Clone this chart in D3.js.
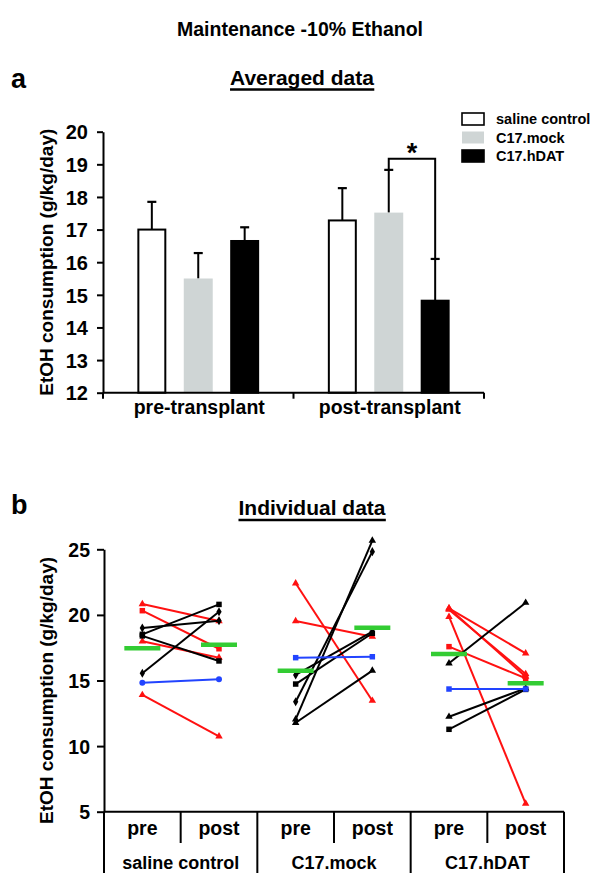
<!DOCTYPE html>
<html><head><meta charset="utf-8">
<script src="https://cdn.jsdelivr.net/npm/d3@7"></script>
<style>
body{margin:0;background:#fff}
svg{display:block}
text{font-family:"Liberation Sans",Arial,Helvetica,sans-serif;font-weight:bold;fill:#000}
</style>
</head><body>
<svg id="chart" width="600" height="890"></svg>
<script>
// ---------- Panel a data ----------
const groupsA = ["pre-transplant", "post-transplant"];
const seriesA = ["saline control", "C17.mock", "C17.hDAT"];
const meanPre = [17.0, 15.5, 16.65];
const meanPost = [17.28, 17.52, 14.82];
const semPre = [0.85, 0.78, 0.42];
const semPost = [0.99, 1.31, 1.28];
const ticksA = [12, 13, 14, 15, 16, 17, 18, 19, 20];
const sigLevel = 19.17;

// ---------- Panel b data ----------
const groupsB = ["saline control", "C17.mock", "C17.hDAT"];
const phasesB = ["pre", "post"];
const ticksB = [5, 10, 15, 20, 25];
// cohort code: R = red, K = black, B = blue
const salineCohort = ["R", "R", "R", "R", "K", "K", "K", "K", "B"];
const salinePre  = [20.83, 20.32, 17.99, 13.9, 19.0, 18.52, 18.4, 15.55, 14.83];
const salinePost = [19.53, 17.42, 16.74, 10.75, 19.55, 20.8, 16.49, 20.24, 15.09];
const salineMark = ["tri", "sq", "tri", "tri", "dia", "sq", "sq", "dia", "circ"];
const mockCohort = ["R", "R", "K", "K", "K", "K", "K", "B"];
const mockPre  = [22.41, 19.53, 15.42, 14.73, 13.38, 12.04, 11.78, 16.74];
const mockPost = [13.46, 18.34, 18.72, 18.6, 24.82, 25.66, 15.75, 16.81];
const mockMark = ["tri", "tri", "dia", "sq", "dia", "tri", "tri", "sq"];
const hdatCohort = ["R", "R", "R", "R", "R", "K", "K", "K", "B"];
const hdatPre  = [20.5, 20.5, 20.4, 19.86, 17.58, 16.31, 12.24, 11.28, 14.35];
const hdatPost = [17.07, 15.29, 15.5, 5.62, 15.17, 20.93, 14.4, 14.32, 14.35];
const hdatMark = ["tri", "tri", "tri", "tri", "sq", "tri", "tri", "sq", "sq"];
const groupMeanPre = [17.45, 15.75, 17.02];
const groupMeanPost = [17.73, 19.02, 14.79];

// ---------- styles ----------
const barFill = ["#ffffff", "#cfd5d5", "#000000"];
const barStroke = ["#000000", "none", "#000000"];
const cohortColor = {R: "#ff1111", K: "#000000", B: "#2244ff"};
const meanColor = "#33cc33";

const svg = d3.select("#chart");

// Title
svg.append("text").attr("x", 300).attr("y", 36).attr("text-anchor", "middle")
  .style("font-size", "19.5px").text("Maintenance -10% Ethanol");

// ================= Panel a =================
svg.append("text").attr("x", 11).attr("y", 88).style("font-size", "27px").text("a");
const tA = svg.append("text").attr("x", 302).attr("y", 85).attr("text-anchor", "middle")
  .style("font-size", "21px").text("Averaged data");
const bbA = tA.node().getBBox();
svg.append("line").attr("x1", bbA.x).attr("x2", bbA.x + bbA.width).attr("y1", 89.5).attr("y2", 89.5)
  .attr("stroke", "#000").attr("stroke-width", 2.5);

const yA = d3.scaleLinear().domain([12, 20]).range([392.7, 131.7]);
const x0 = d3.scaleBand().domain(groupsA).range([103, 484]);
const x1 = d3.scaleBand().domain(seriesA).range([0, x0.bandwidth()]).paddingInner(0.376).paddingOuter(0.74);

const axA = svg.append("g").attr("transform", "translate(103,0)")
  .call(d3.axisLeft(yA).tickValues(ticksA).tickSize(6).tickPadding(9).tickSizeOuter(0));
axA.select(".domain").attr("stroke-width", 2);
axA.selectAll(".tick line").attr("stroke-width", 2);
axA.selectAll(".tick text").style("font-size", "20px").style("font-family", '"Liberation Sans",Arial,sans-serif').style("font-weight", "bold").attr("dy", "0.36em");

// y label a
svg.append("text").attr("transform", `translate(53,${(131.7 + 392.7) / 2}) rotate(-90)`)
  .attr("text-anchor", "middle").style("font-size", "19px").text("EtOH consumption (g/kg/day)");

// bars
const barData = [];
groupsA.forEach((g, gi) => seriesA.forEach((s, si) => {
  const m = gi === 0 ? meanPre[si] : meanPost[si];
  const e = gi === 0 ? semPre[si] : semPost[si];
  barData.push({g, s, si, m, e});
}));
const gBars = svg.append("g");
// error bars (behind)
barData.forEach(d => {
  const cx = x0(d.g) + x1(d.s) + x1.bandwidth() / 2;
  gBars.append("line").attr("x1", cx).attr("x2", cx).attr("y1", yA(d.m)).attr("y2", yA(d.m + d.e))
    .attr("stroke", "#000").attr("stroke-width", 2);
  gBars.append("line").attr("x1", cx - 4.5).attr("x2", cx + 4.5).attr("y1", yA(d.m + d.e)).attr("y2", yA(d.m + d.e))
    .attr("stroke", "#000").attr("stroke-width", 2.2);
});
gBars.selectAll("rect").data(barData).join("rect")
  .attr("x", d => x0(d.g) + x1(d.s) + (barStroke[d.si] === "none" ? 0 : 1))
  .attr("width", d => x1.bandwidth() - (barStroke[d.si] === "none" ? 0 : 2))
  .attr("y", d => yA(d.m))
  .attr("height", d => yA(12) - yA(d.m))
  .attr("fill", d => barFill[d.si])
  .attr("stroke", d => barStroke[d.si])
  .attr("stroke-width", 2);

// x axis a
const xaxA = svg.append("g");
xaxA.append("line").attr("x1", 103).attr("x2", 484).attr("y1", yA(12)).attr("y2", yA(12)).attr("stroke", "#000").attr("stroke-width", 2);
const edgesA = [x0(groupsA[0]), x0(groupsA[1]), x0(groupsA[1]) + x0.bandwidth()];
edgesA.forEach(xe => xaxA.append("line").attr("x1", xe).attr("x2", xe).attr("y1", yA(12)).attr("y2", yA(12) + 6).attr("stroke", "#000").attr("stroke-width", 2));
groupsA.forEach(g => svg.append("text").attr("x", x0(g) + x0.bandwidth() / 2 + 1).attr("y", 414)
  .attr("text-anchor", "middle").style("font-size", "19.5px").text(g));

// significance bracket
const xm = x0(groupsA[1]) + x1(seriesA[1]) + x1.bandwidth() / 2;
const xh = x0(groupsA[1]) + x1(seriesA[2]) + x1.bandwidth() / 2;
svg.append("path")
  .attr("d", `M${xm},${yA(meanPost[1] + semPost[1])}V${yA(sigLevel)}H${xh}V${yA(meanPost[2] + semPost[2])}`)
  .attr("fill", "none").attr("stroke", "#000").attr("stroke-width", 2);
svg.append("text").attr("x", (xm + xh) / 2).attr("y", 162).attr("text-anchor", "middle")
  .style("font-size", "27px").text("*");

// legend
const legY = [119, 137.5, 156];
seriesA.forEach((s, i) => {
  svg.append("rect").attr("x", 462).attr("y", legY[i] - 6).attr("width", 22).attr("height", 12)
    .attr("fill", barFill[i]).attr("stroke", barStroke[i]).attr("stroke-width", 1.6);
  svg.append("text").attr("x", 496).attr("y", legY[i] + 5).style("font-size", "14.5px").text(s);
});

// ================= Panel b =================
svg.append("text").attr("x", 11).attr("y", 514).style("font-size", "27px").text("b");
const tB = svg.append("text").attr("x", 312).attr("y", 515).attr("text-anchor", "middle")
  .style("font-size", "21px").text("Individual data");
const bbB = tB.node().getBBox();
svg.append("line").attr("x1", bbB.x).attr("x2", bbB.x + bbB.width).attr("y1", 520).attr("y2", 520)
  .attr("stroke", "#000").attr("stroke-width", 2.5);

const yB = d3.scaleLinear().domain([5, 25]).range([811.7, 549.3]);
const keysB = [];
groupsB.forEach(g => phasesB.forEach(p => keysB.push(g + "|" + p)));
const xB = d3.scaleBand().domain(keysB).range([104, 564]);
const cx = k => xB(k) + xB.bandwidth() / 2;

const axB = svg.append("g").attr("transform", "translate(104,0)")
  .call(d3.axisLeft(yB).tickValues(ticksB).tickSize(7).tickPadding(7).tickSizeOuter(0));
axB.select(".domain").attr("stroke-width", 2);
axB.selectAll(".tick line").attr("stroke-width", 2);
axB.selectAll(".tick text").style("font-size", "19.5px").style("font-family", '"Liberation Sans",Arial,sans-serif').style("font-weight", "bold").attr("dy", "0.36em");

svg.append("text").attr("transform", `translate(53,${(549.3 + 811.7) / 2 + 10}) rotate(-90)`)
  .attr("text-anchor", "middle").style("font-size", "19px").text("EtOH consumption (g/kg/day)");

// lines
const symType = {tri: d3.symbolTriangle, sq: d3.symbolSquare, dia: d3.symbolDiamond, circ: d3.symbolCircle};
const setsB = [
  {g: groupsB[0], pre: salinePre, post: salinePost, c: salineCohort, m: salineMark},
  {g: groupsB[1], pre: mockPre, post: mockPost, c: mockCohort, m: mockMark},
  {g: groupsB[2], pre: hdatPre, post: hdatPost, c: hdatCohort, m: hdatMark}
];
const gLines = svg.append("g");
setsB.forEach(set => {
  const xp = cx(set.g + "|pre"), xq = cx(set.g + "|post");
  set.pre.forEach((v, i) => {
    const col = cohortColor[set.c[i]];
    gLines.append("line").attr("x1", xp).attr("y1", yB(v)).attr("x2", xq).attr("y2", yB(set.post[i]))
      .attr("stroke", col).attr("stroke-width", 2);
    const sz = set.m[i] === "sq" ? 30 : set.m[i] === "circ" ? 28 : 24;
    const sym = d3.symbol().type(symType[set.m[i]]).size(sz);
    gLines.append("path").attr("d", sym()).attr("transform", `translate(${xp},${yB(v)})`).attr("fill", col);
    gLines.append("path").attr("d", sym()).attr("transform", `translate(${xq},${yB(set.post[i])})`).attr("fill", col);
  });
});
// group means
groupsB.forEach((g, i) => {
  [["pre", groupMeanPre[i]], ["post", groupMeanPost[i]]].forEach(([p, v]) => {
    const c = cx(g + "|" + p);
    svg.append("line").attr("x1", c - 18).attr("x2", c + 18).attr("y1", yB(v)).attr("y2", yB(v))
      .attr("stroke", meanColor).attr("stroke-width", 4.5);
  });
});

// category table axis
const tab = svg.append("g");
const y0 = yB(5);
tab.append("line").attr("x1", 104).attr("x2", 564).attr("y1", y0).attr("y2", y0).attr("stroke", "#000").attr("stroke-width", 2);
groupsB.forEach((g, i) => {
  const left = xB(g + "|pre");
  tab.append("line").attr("x1", left).attr("x2", left).attr("y1", y0).attr("y2", 873).attr("stroke", "#000").attr("stroke-width", 2);
  const mid = xB(g + "|post");
  tab.append("line").attr("x1", mid).attr("x2", mid).attr("y1", y0).attr("y2", 843).attr("stroke", "#000").attr("stroke-width", 2);
  phasesB.forEach(p => tab.append("text").attr("x", cx(g + "|" + p)).attr("y", 835).attr("text-anchor", "middle")
    .style("font-size", "19.5px").text(p));
  tab.append("text").attr("x", mid).attr("y", 869).attr("text-anchor", "middle").style("font-size", "18px").text(g);
});
tab.append("line").attr("x1", 564).attr("x2", 564).attr("y1", y0).attr("y2", 873).attr("stroke", "#000").attr("stroke-width", 2);
</script>
</body></html>
